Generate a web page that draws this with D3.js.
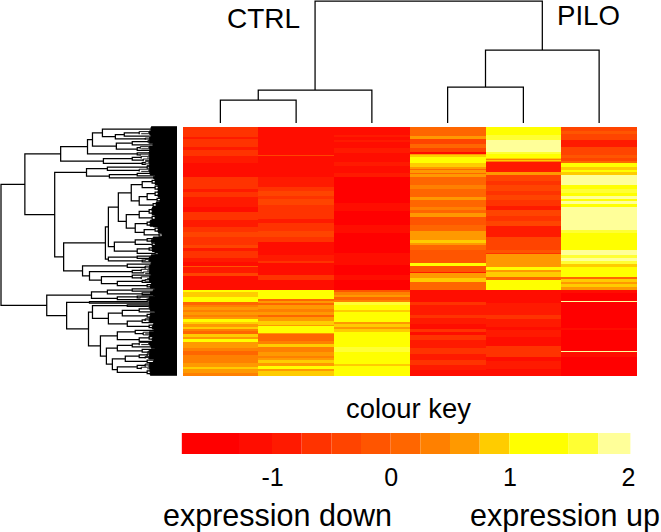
<!DOCTYPE html>
<html><head><meta charset="utf-8">
<script src="https://cdn.jsdelivr.net/npm/d3@7"></script>
<style>html,body{margin:0;padding:0;background:#fff}svg{display:block}text{font-family:"Liberation Sans",Arial,sans-serif;fill:#000}</style>
</head><body><svg id="c" width="661" height="532"></svg>
<script>
const samples = ["C1","C2","C3","P1","P2","P3"];
const groupLabels = ["CTRL","PILO"];
const keyEdges = [-1.76,-1.27,-1,-0.75,-0.5,-0.25,0,0.25,0.5,0.75,1,1.5,1.75,2.02];
const keyColours = ["#ff0000","#ff0d00","#ff1a00","#ff3300","#ff4400","#ff5500","#ff6600","#ff8000","#ff9900","#ffcc00","#ffff00","#ffff33","#ffff99"];
const keyTicks = [-1,0,1,2];
const geneCount = 248;

// [rows, log-expression] runs, top row first
const C1 = [[10,-.6],[2,-.9],[8,-.6],[3,-.9],[6,-.6],[7,-.9],[4,-1.1],[10,-1.1],[12,-.6],[3,-.9],[5,-.6],[10,-.9],[5,-1.1],[8,-.6],[7,-.9],[5,-.6],[5,-.4],[8,-.6],[3,-.3],[3,-.9],[7,-.6],[4,-.9],[4,-1.1],[1,-.1],[6,-.8],[3,-.4],[14,-1.2],
 [2,1.2],[5,.9],[5,1.2],[3,.1],[2,.4],[3,.6],[2,.3],[3,.6],[2,.3],[2,.6],[3,1.2],[2,.9],[3,.6],[2,.9],[2,.4],[3,.1],[3,.9],[2,.6],[3,1.1],[2,.6],[4,.6],[3,.3],[4,.1],[3,.4],[5,.3],[4,.6],[2,.9],[4,.6],[2,.4]];
const C2 = [[28,-1.1],[1,-.3],[6,-1.1],[4,-1.25],[11,-1.1],[10,-.8],[4,-.6],[5,-.4],[3,-.7],[6,-.4],[6,-.7],[8,-.6],[4,-.9],[8,-.7],[6,-.4],[5,-.7],[13,-1.1],[6,-.9],[2,-.6],[12,-1.2],[5,-.7],[10,-1.1],
 [9,1.2],[2,.2],[2,.7],[2,.1],[4,.7],[3,.4],[3,.7],[2,.2],[4,.6],[4,.8],[1,.6],[7,1.2],[1,.6],[3,.1],[4,.2],[3,.3],[3,.8],[5,.3],[4,.6],[2,.3],[2,.6],[3,.8],[3,.6],[3,1.1],[2,.7],[4,.9]];
const C3 = [[8,-1.1],[2,-.8],[3,-1.1],[2,-.9],[6,-1.1],[5,-.9],[9,-1.1],[4,-.8],[7,-1.1],[4,-.9],[26,-1.4],[8,-1.2],[14,-1.4],[8,-1.2],[20,-1.4],[3,-1.1],[6,-1.2],[3,-1.1],[10,-1.3],[5,-1.2],[10,-1.4],
 [2,-.2],[3,.3],[2,.6],[3,.1],[2,.4],[3,1.6],[5,1.2],[2,.9],[6,1.2],[4,1.1],[2,.7],[3,.9],[2,.6],[3,.9],[15,1.2],[5,1.6],[12,1.2],[2,.9],[9,1.2]];
const P1 = [[9,.1],[3,.6],[5,-.4],[4,.2],[4,-.3],[2,-1.1],[1,.6],[2,.9],[6,1.2],[4,.9],[2,.5],[1,0],[3,.6],[1,.1],[3,.7],[8,0],[4,.3],[8,.1],[3,.5],[7,.1],[3,.3],[3,0],[2,.6],[2,.7],[8,-.1],[6,.1],[2,.5],[4,.7],[3,.5],[3,.8],[2,.5],[5,.1],[13,-.1],[3,1.1],[6,-.2],[1,-.8],[5,.5],[4,.9],[8,.2],
 [12,-1.1],[3,-.7],[10,-.8],[3,-.6],[6,-.9],[5,-1.1],[3,-.6],[3,-1.2],[5,-.7],[8,-1],[6,-.7],[6,-.9],[5,-.6],[5,-.8],[5,-1.1]];
const P2 = [[8,1.2],[5,1.6],[12,1.9],[2,1.6],[4,1.2],[1,.9],[1,.3],[1,.8],[1,.3],[10,-.9],[3,.6],[6,-.4],[4,-.7],[6,-.3],[4,-.7],[5,-.4],[6,-.6],[4,-.9],[6,-.5],[5,-.7],[5,-.4],[6,-.8],[5,-.9],[4,-.3],[4,-.5],[5,-.4],[3,-.2],[1,-.6],[4,.6],[4,.5],[5,.5],[3,1.2],[2,.6],[5,.8],[3,.2],[10,1.2],
 [10,-1.2],[3,-1.1],[12,-.8],[4,-.6],[8,-.8],[3,-1.1],[7,-.9],[9,-1.15],[4,-.7],[7,-.6],[4,-1.2],[8,-1],[6,-1.1]];
const P3 = [[4,-.5],[3,-.1],[3,-.4],[3,-.3],[7,-1],[8,-.5],[3,-.2],[3,-.4],[2,.1],[4,1.2],[3,.9],[2,1.2],[3,.8],[10,1.9],[4,1.2],[4,1.6],[3,1.3],[3,1.8],[2,1.2],[3,1.8],[3,1.2],[23,1.9],[3,1.6],[17,1.2],[5,1.9],[3,1.7],[3,1.9],[3,1.6],[3,.8],[10,1.2],[2,.1],[3,.9],[2,.5],[3,.9],[3,.5],
 [3,-1.1],[8,-1.3],[1,1.9],[26,-1.4],[2,-1.2],[21,-1.4],[1,1.9],[5,-1.2],[18,-1.35]];
const columns = [C1,C2,C3,P1,P2,P3];

// column dendrogram: [mergeHeight, left, right]; a string is a sample
const colTree = [122,[33,[23,"C1","C2"],"C3"],[73,[36,"P1","P2"],"P3"]];

// gene dendrogram: [mergeHeight, upper, lower]; a number is a tight cluster of that many genes
const geneUpper = [117,[90,[85,[75,8,[62,[53,6,6],4]],[61,[45,6,6],[40,5,5]]],[40,4,4]],[74,[45,5,5],[35,4,3]]];
const geneMidTop = [91,[70,7,5],[68,[40,6,4],3]];
const geneMidA = [59,[46,[35,[25,6,5],[22,6,5]],[38,[30,[22,6,6],[20,5,5]],[24,5,5]]],[51,[38,[28,7,6],[25,6,5]],[42,[30,6,5],[33,[22,6,5],[18,5,4]]]]];
const geneMidB = [63,[42,[30,5,4],[25,4,4]],[40,[28,5,4],[22,4,3]]];
const geneMidC = [69,[40,4,4],[35,3,3]];
const geneMidD = [95,[50,6,6],[88,[45,5,4],[76,[45,5,5],[60,[35,4,4],[30,4,4]]]]];
const geneLowA = [86,[70,[45,4,4],[35,3,3]],[60,[40,3,3],[30,2,2]]];
const geneLowB = [85,[50,3,3],[69,[55,[38,6,5],[30,5,5]],[50,[35,5,5],[28,5,4]]]];
const geneLowC = [77,[60,[42,6,6],[38,[28,5,5],3]],[71,[60,[45,6,5],[35,5,5]],[65,[52,[38,5,5],[30,5,4]],[60,[40,6,5],[30,5,5]]]]];
const geneTree = [177,[153,geneUpper,[123,geneMidTop,[114,[72,[69,geneMidA,geneMidB],geneMidC],geneMidD]]],[131,geneLowA,[111,[88,3,3],[89,geneLowB,geneLowC]]]];
const leafReach = [26,30,24,34,28,22,32,26,38,24,29,23,36,27];
const leafSolid = 28;

const svg = d3.select("#c");
const colour = d3.scaleThreshold().domain(keyEdges.slice(1,-1)).range(keyColours);

// heatmap
const xCol = d3.scaleBand().domain(samples).range([182.5,637]);
const yRow = d3.scaleLinear().domain([0,geneCount]).range([127,375.5]);
const cells = [];
columns.forEach((col,i)=>{let r=0;col.forEach(([n,v])=>{cells.push({s:samples[i],r,n,v});r+=n;});});
svg.append("g").style("filter","blur(0.45px)").selectAll("rect").data(cells).join("rect")
  .attr("x",d=>xCol(d.s)).attr("width",xCol.bandwidth())
  .attr("y",d=>yRow(d.r)).attr("height",d=>yRow(d.r+d.n)-yRow(d.r))
  .attr("fill",d=>colour(d.v)).attr("shape-rendering","crispEdges");

// column dendrogram
const yTop = d3.scaleLinear().domain([0,122]).range([123,1]);
const toNode = t => Array.isArray(t) ? {h:t[0],children:[toNode(t[1]),toNode(t[2])]} : {name:t,h:0};
const colRoot = d3.hierarchy(toNode(colTree));
colRoot.eachAfter(n=>{n.px = n.children ? d3.mean(n.children,c=>c.px) : xCol(n.data.name)+xCol.bandwidth()/2;});
let p = d3.path();
colRoot.each(n=>{ if(n.children){const [a,b]=n.children;
  p.moveTo(a.px,yTop(a.data.h)); p.lineTo(a.px,yTop(n.data.h)); p.lineTo(b.px,yTop(n.data.h)); p.lineTo(b.px,yTop(b.data.h));}});
svg.append("path").attr("d",p.toString()).attr("fill","none").attr("stroke","#000").attr("stroke-width",1.25);

// gene dendrogram
const xGene = d3.scaleLinear().domain([0,177]).range([177,1]);
const total = (function c(t){return Array.isArray(t)?c(t[1])+c(t[2]):t;})(geneTree);
const yLeaf = d3.scaleLinear().domain([0,total]).range([127,375]);
let cursor=0, reachI=0;
const g = d3.path(), leaves = d3.path(), mass = d3.path();
function lay(t,parentH){
  if(Array.isArray(t)){
    const a=lay(t[1],t[0]), b=lay(t[2],t[0]);
    const x=xGene(t[0]);
    g.moveTo(xGene(a.h),a.y); g.lineTo(x,a.y); g.lineTo(x,b.y); g.lineTo(xGene(b.h),b.y);
    return {h:t[0],y:(a.y+b.y)/2};
  }
  const start=cursor; const gh=Math.min(parentH-3,Math.max(leafReach[reachI%leafReach.length],18));
  for(let i=0;i<t;i++){
    const r=Math.min(gh,leafReach[reachI++%leafReach.length]);
    const y=yLeaf(cursor+0.5); cursor++;
    leaves.moveTo(xGene(r),y); leaves.lineTo(xGene(0),y);
    mass.moveTo(xGene(Math.min(r,leafSolid)),y); mass.lineTo(xGene(0),y);
  }
  const y0=yLeaf(start+0.5), y1=yLeaf(cursor-0.5);
  g.moveTo(xGene(gh),y0); g.lineTo(xGene(gh),y1);
  return {h:gh,y:(y0+y1)/2};
}
lay(geneTree,177);
svg.append("path").attr("d",leaves.toString()).attr("fill","none").attr("stroke","#000").attr("stroke-width",0.9);
svg.append("path").attr("d",mass.toString()).attr("fill","none").attr("stroke","#000").attr("stroke-width",2);
svg.append("path").attr("d",g.toString()).attr("fill","none").attr("stroke","#000").attr("stroke-width",1.25);

// group labels
svg.append("text").attr("x",227).attr("y",28).attr("font-size",28).text(groupLabels[0]);
svg.append("text").attr("x",557).attr("y",25).attr("font-size",27.6).text(groupLabels[1]);

// colour key
const xKey = d3.scaleLinear().domain([-1,2]).range([272,628]);
svg.append("g").selectAll("rect").data(keyColours).join("rect")
  .attr("x",(d,i)=>xKey(keyEdges[i])).attr("width",(d,i)=>xKey(keyEdges[i+1])-xKey(keyEdges[i]))
  .attr("y",433).attr("height",21).attr("fill",d=>d);
const axis = svg.append("g").attr("transform","translate(0,464)")
  .call(d3.axisBottom(xKey).tickValues(keyTicks).tickSize(0).tickPadding(0).tickFormat(d=>d<0?"-"+Math.abs(d):d));
axis.select(".domain").remove();
axis.selectAll("text").attr("font-size",25).attr("font-family",'"Liberation Sans",Arial,sans-serif').attr("fill","#000").attr("dy",null).attr("y",22);
svg.append("text").attr("x",408.5).attr("y",418).attr("text-anchor","middle").attr("font-size",27.4).text("colour key");
svg.append("text").attr("x",163).attr("y",526).attr("font-size",30.5).text("expression down");
svg.append("text").attr("x",470).attr("y",526).attr("font-size",30.5).text("expression up");
</script></body></html>
